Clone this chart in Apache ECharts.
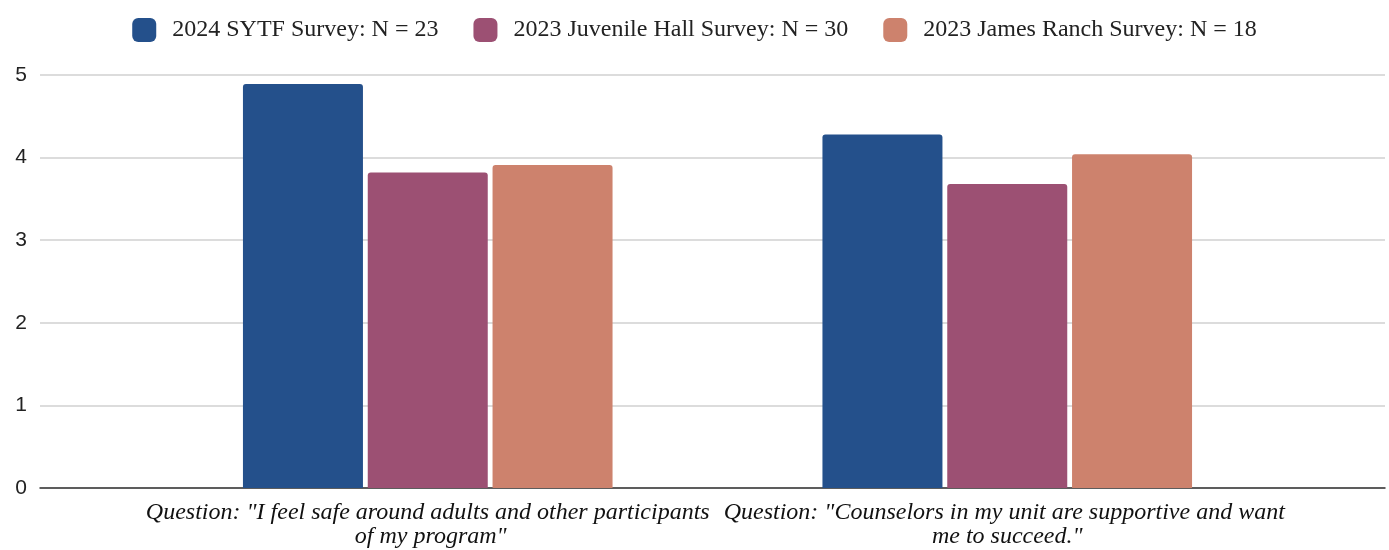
<!DOCTYPE html>
<html>
<head>
<meta charset="utf-8">
<script src="https://cdn.jsdelivr.net/npm/echarts@6/dist/echarts.min.js"></script>
<style>html,body{margin:0;padding:0;background:#fff;}#c{width:1389px;height:550px;}</style>
</head>
<body>
<div id="c"></div>
<script>
const categories = [
  'Question: "I feel safe around adults and other participants of my program"',
  'Question: "Counselors in my unit are supportive and want me to succeed."'
];
const seriesNames = ['2024 SYTF Survey: N = 23', '2023 Juvenile Hall Survey: N = 30', '2023 James Ranch Survey: N = 18'];
const sytf2024 = [4.89, 4.28];
const juvenileHall2023 = [3.82, 3.68];
const jamesRanch2023 = [3.91, 4.04];
const colors = ['#24508b', '#9c5073', '#cd826d'];

const chart = echarts.init(document.getElementById('c'));
const values = [sytf2024, juvenileHall2023, jamesRanch2023];
chart.setOption({
  animation: false,
  color: colors,
  legend: {
    top: 13,
    left: 'center',
    icon: 'roundRect',
    itemWidth: 24,
    itemHeight: 24,
    itemGap: 35,
    textStyle: { fontFamily: 'Liberation Serif', fontSize: 24, color: '#222', padding: [0, 0, 0, 11] },
    data: seriesNames
  },
  grid: [
    { left: 40, right: 4, top: 75, bottom: 62 },
    { left: 138, right: 92, top: 75, bottom: 62 }
  ],
  xAxis: [
    { gridIndex: 0, type: 'category', data: [''], axisLine: { show: true, lineStyle: { color: '#333', width: 1.5 } },
      axisTick: { show: false }, axisLabel: { show: false }, splitLine: { show: false } },
    { gridIndex: 1, type: 'category', data: categories, axisLine: { show: false }, axisTick: { show: false },
      axisLabel: { interval: 0, margin: 13, width: 570, overflow: 'break', lineHeight: 24,
        fontFamily: 'Liberation Serif', fontStyle: 'italic', fontSize: 24, color: '#111' } }
  ],
  yAxis: [
    { gridIndex: 0, type: 'value', min: 0, max: 5, interval: 1,
      axisLine: { show: false }, axisTick: { show: false },
      axisLabel: { fontFamily: 'Liberation Sans', fontSize: 21, color: '#222', margin: 13 },
      splitLine: { lineStyle: { color: '#d0d0d0', width: 1.5 } } },
    { gridIndex: 1, type: 'value', min: 0, max: 5, interval: 1, show: false, splitLine: { show: false } }
  ],
  series: values.map((v, i) => ({
    name: seriesNames[i],
    type: 'bar',
    xAxisIndex: 1,
    yAxisIndex: 1,
    data: v,
    barWidth: 120,
    barGap: '4%',
    itemStyle: { borderRadius: [3, 3, 0, 0] }
  }))
});
</script>
</body>
</html>
